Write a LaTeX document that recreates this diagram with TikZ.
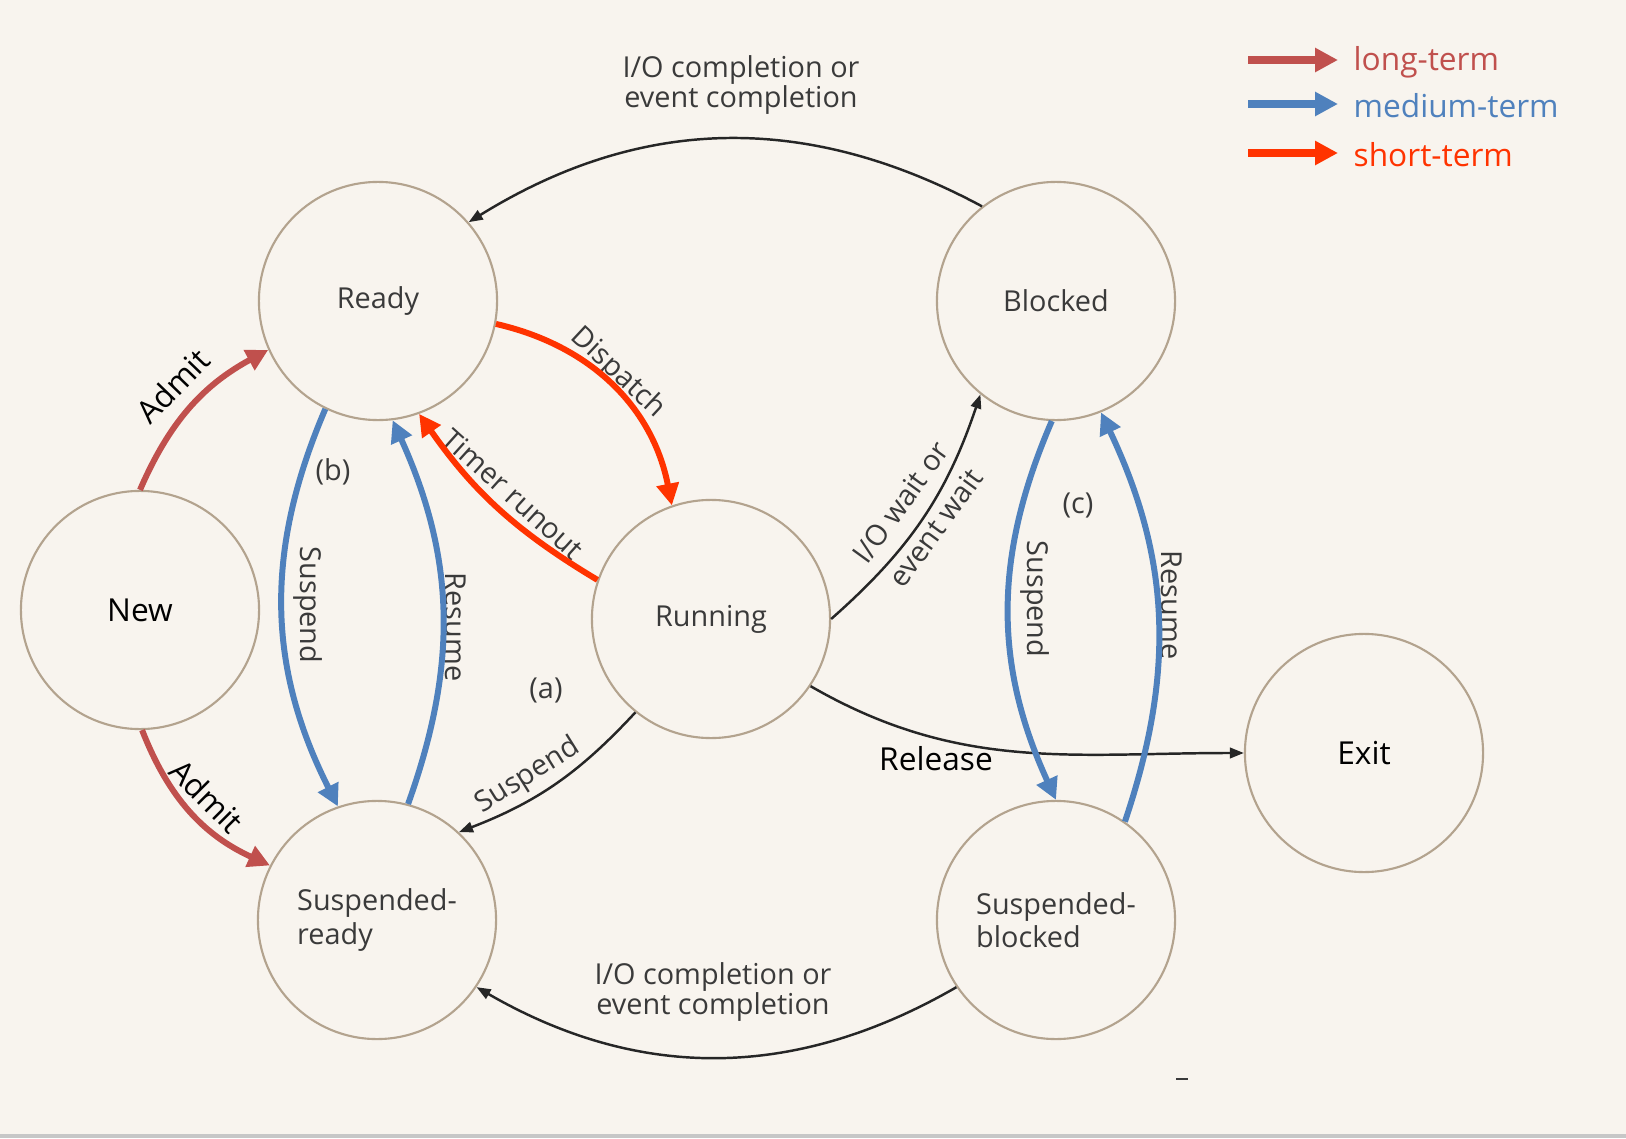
\documentclass[tikz,border=0pt]{standalone}
\usepackage{fontspec}
\setmainfont{Open Sans}
\usetikzlibrary{arrows.meta}
\definecolor{paper}{HTML}{F8F4EE}
\definecolor{ring}{HTML}{B3A38E}
\definecolor{inkgray}{HTML}{3A3A3A}
\definecolor{longterm}{HTML}{C0504D}
\definecolor{mediumterm}{HTML}{4F81BD}
\definecolor{shortterm}{HTML}{FF3300}

\begin{document}
\begin{tikzpicture}[x=0.01cm, y=0.01cm,
    state/.style={circle, draw=ring, line width=0.6pt, minimum size=2.38cm, inner sep=0pt,
        text=inkgray, align=left, font=\fontsize{8.2}{9.4}\selectfont},
    bigstate/.style={state, text=black, font=\fontsize{9}{10}\selectfont},
    lbl/.style={text=inkgray, align=center, inner sep=0pt, font=\fontsize{8.2}{8.8}\selectfont},
    blbl/.style={text=black, inner sep=0pt, font=\fontsize{9}{10}\selectfont},
    keytext/.style={anchor=west, inner sep=0pt, font=\fontsize{9}{10}\selectfont},
    blackarrow/.style={-{Triangle[length=4pt,width=3pt]}, line width=0.7pt, draw=black!85},
    termarrow/.style={-{Triangle[length=6.2pt,width=6.2pt]}, line width=1.7pt},
    keyarrow/.style={-{Triangle[length=6.5pt,width=6.5pt]}, line width=2.3pt}]

    \fill[paper] (0,0) rectangle (1626,1138);
    \fill[black!22] (0,0) rectangle (1626,4);

    \node[state] (ready) at (378,837) {Ready};
    \node[state] (blocked) at (1056,837) {Blocked};
    \node[bigstate] (new) at (140,528) {New};
    \node[state] (running) at (711,519) {Running};
    \node[bigstate] (exit) at (1364,385) {Exit};
    \node[state] (sready) at (377,218) {Suspended-\\ready};
    \node[state] (sblocked) at (1056,218) {Suspended-\\blocked};

    \coordinate (key1a) at (1248,1078);
    \coordinate (key1b) at (1338,1078);
    \coordinate (key2a) at (1248,1034);
    \coordinate (key2b) at (1338,1034);
    \coordinate (key3a) at (1248,985);
    \coordinate (key3b) at (1338,985);
    \node[keytext, text=longterm] (key1) at (1353,1076) {long-term};
    \node[keytext, text=mediumterm] (key2) at (1353,1032) {medium-term};
    \node[keytext, text=shortterm] (key3) at (1353,983) {short-term};
    \draw[keyarrow, longterm] (key1a) -- (key1b);
    \draw[keyarrow, mediumterm] (key2a) -- (key2b);
    \draw[keyarrow, shortterm] (key3a) -- (key3b);

    \node[lbl] (iotop) at (741,1053) {I/O completion or\\event completion};
    \node[lbl] (iobot) at (713,146) {I/O completion or\\event completion};
    \node[lbl, rotate=54] (iowait) at (918,623) {I/O wait or\\[3.5pt]event wait};
    \node[blbl] (release) at (936,379) {Release};
    \node[lbl, rotate=32] (susa) at (528,362) {Suspend};
    \node[lbl] (marka) at (546,448) {(a)};
    \node[lbl, rotate=-43] (dispatch) at (618,765) {Dispatch};
    \node[lbl, rotate=-42] (timer) at (513,644) {Timer runout};
    \node[lbl, rotate=-90] (susb) at (308,533) {Suspend};
    \node[lbl] (markb) at (333,666) {(b)};
    \node[lbl, rotate=-90] (resb) at (456,511) {Resume};
    \node[lbl, rotate=-90] (susc) at (1035,539) {Suspend};
    \node[lbl] (markc) at (1078,633) {(c)};
    \node[lbl, rotate=-90] (resc) at (1172,533) {Resume};
    \node[blbl, rotate=46] (admit1) at (173,752) {Admit};
    \node[blbl, rotate=-45] (admit2) at (207,342) {Admit};

    \draw[blackarrow] (blocked.128) to[bend right=30] (ready.41);
    \draw[blackarrow] (sblocked.214) to[bend left=30] (sready.326);
    \draw[blackarrow] (running.0) to[bend right=15] (blocked.231);
    \draw[blackarrow] (running.-34) to[out=-30, in=180] (exit.west);
    \draw[blackarrow] (running.231) to[bend left=13] (sready.47);

    \draw[termarrow, shortterm] (ready.-11) to[bend left=33] (running.109);
    \draw[termarrow, shortterm] (running.161) to[bend left=12] (ready.-70);

    \draw[termarrow, mediumterm] (ready.244) to[bend right=25] (sready.109);
    \draw[termarrow, mediumterm] (sready.75) to[bend right=22] (ready.277);
    \draw[termarrow, mediumterm] (blocked.268) to[bend right=24] (sblocked.90);
    \draw[termarrow, mediumterm] (sblocked.55) to[bend right=22] (blocked.292);

    \draw[termarrow, longterm] (new.90) to[bend left=19] (ready.204);
    \draw[termarrow, longterm] (new.271) to[bend right=22] (sready.153);

    \draw[inkgray, line width=0.6pt] (1176,59) -- (1188,59);
\end{tikzpicture}
\end{document}
